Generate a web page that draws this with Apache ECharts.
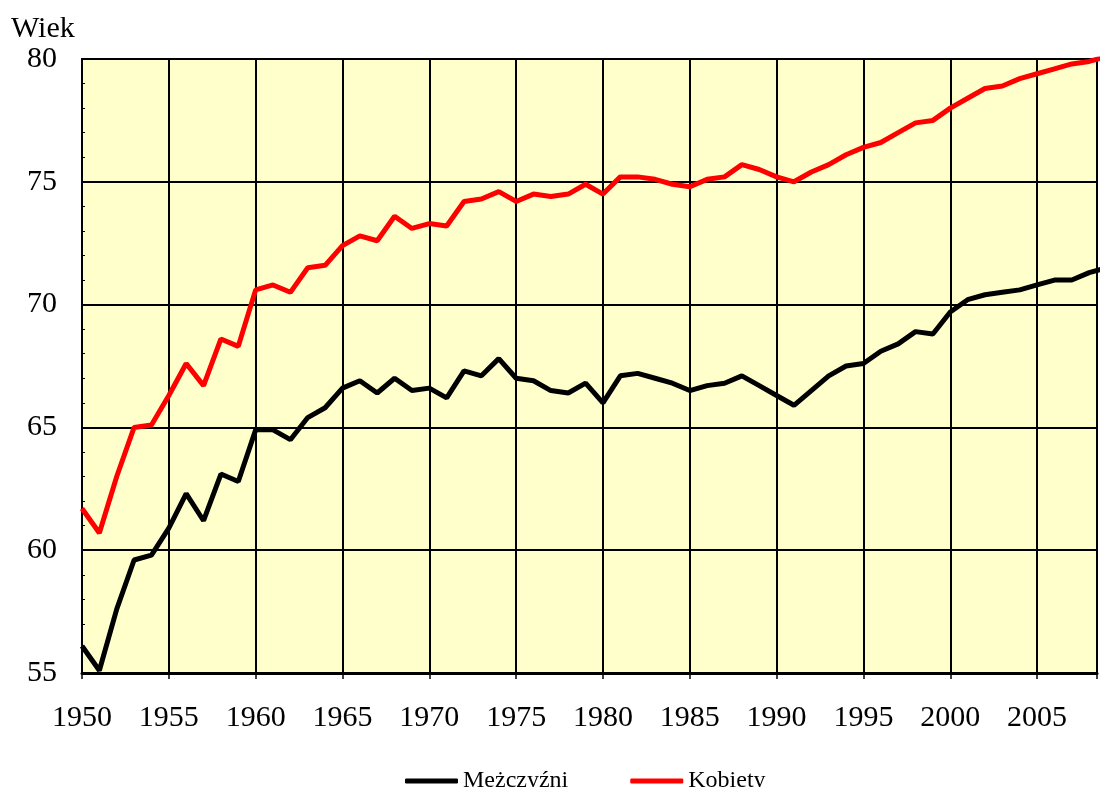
<!DOCTYPE html>
<html>
<head>
<meta charset="utf-8">
<title>Wiek</title>
<script src="https://cdn.jsdelivr.net/npm/echarts@6/dist/echarts.min.js"></script>
<style>
  html, body { margin: 0; padding: 0; background: #fff; }
  #chart { width: 1100px; height: 787px; }
</style>
</head>
<body>
<div id="chart"></div>
<script>
// lata 1950-2009
const years = [
  1950, 1951, 1952, 1953, 1954, 1955, 1956, 1957, 1958, 1959,
  1960, 1961, 1962, 1963, 1964, 1965, 1966, 1967, 1968, 1969,
  1970, 1971, 1972, 1973, 1974, 1975, 1976, 1977, 1978, 1979,
  1980, 1981, 1982, 1983, 1984, 1985, 1986, 1987, 1988, 1989,
  1990, 1991, 1992, 1993, 1994, 1995, 1996, 1997, 1998, 1999,
  2000, 2001, 2002, 2003, 2004, 2005, 2006, 2007, 2008, 2009
];
const men = [
  56.1, 55.1, 57.6, 59.6, 59.8, 60.9, 62.3, 61.2, 63.1, 62.8,
  64.9, 64.9, 64.5, 65.4, 65.8, 66.6, 66.9, 66.4, 67.0, 66.5,
  66.6, 66.2, 67.3, 67.1, 67.8, 67.0, 66.9, 66.5, 66.4, 66.8,
  66.0, 67.1, 67.2, 67.0, 66.8, 66.5, 66.7, 66.8, 67.1, 66.7,
  66.3, 65.9, 66.5, 67.1, 67.5, 67.6, 68.1, 68.4, 68.9, 68.8,
  69.7, 70.2, 70.4, 70.5, 70.6, 70.8, 71.0, 71.0, 71.3, 71.5
];
const women = [
  61.7, 60.7, 63.0, 65.0, 65.1, 66.3, 67.6, 66.7, 68.6, 68.3,
  70.6, 70.8, 70.5, 71.5, 71.6, 72.4, 72.8, 72.6, 73.6, 73.1,
  73.3, 73.2, 74.2, 74.3, 74.6, 74.2, 74.5, 74.4, 74.5, 74.9,
  74.5, 75.2, 75.2, 75.1, 74.9, 74.8, 75.1, 75.2, 75.7, 75.5,
  75.2, 75.0, 75.4, 75.7, 76.1, 76.4, 76.6, 77.0, 77.4, 77.5,
  78.0, 78.4, 78.8, 78.9, 79.2, 79.4, 79.6, 79.8, 79.9, 80.1
];
const seriesNames = ["Mężczyźni", "Kobiety"];
const yTicks = { min: 55, max: 80, step: 5 };
const xTicks = { min: 1950, step: 5 };

const FONT = "'Liberation Serif', 'Times New Roman', serif";

const chart = echarts.init(document.getElementById("chart"));

const toPairs = (vals) => years.map((y, i) => [y, vals[i]]);

chart.setOption({
  animation: false,
  title: {
    text: "Wiek",
    left: 11,
    top: 14,
    padding: 0,
    textStyle: { fontFamily: FONT, fontSize: 30, fontWeight: "normal", color: "#000" },
  },
  grid: {
    left: 82,
    top: 59,
    right: 0,
    bottom: 114,
    show: true,
    backgroundColor: "#FFFFCC",
    borderColor: "#000",
    borderWidth: 2,
  },
  legend: {
    left: 400,
    top: 764,
    itemWidth: 53,
    itemHeight: 5,
    itemGap: 62,
    icon: "roundRect",
    textStyle: { fontFamily: FONT, fontSize: 24, color: "#000" },
    data: seriesNames,
  },
  xAxis: {
    type: "value",
    min: xTicks.min,
    max: 2008.45,
    interval: xTicks.step,
    axisLine: { show: true, lineStyle: { color: "#000", width: 3 } },
    axisTick: { show: true, length: 6, lineStyle: { color: "#000", width: 1.5 } },
    axisLabel: {
      fontFamily: FONT,
      fontSize: 30,
      color: "#000",
      margin: 30,
      formatter: (v) => (v % 5 === 0 ? String(v) : ""),
    },
    splitLine: { show: true, lineStyle: { color: "#000", width: 2 } },
  },
  yAxis: {
    type: "value",
    min: yTicks.min,
    max: yTicks.max,
    interval: yTicks.step,
    axisLine: { show: true, lineStyle: { color: "#000", width: 2 } },
    axisTick: { show: true, inside: true, length: 5, lineStyle: { color: "#000", width: 1 } },
    minorTick: { show: true, splitNumber: 5, length: 3, lineStyle: { color: "#000", width: 1 } },
    axisLabel: { fontFamily: FONT, fontSize: 30, color: "#000", margin: 25 },
    splitLine: { show: true, lineStyle: { color: "#000", width: 2 } },
  },
  series: [
    {
      name: seriesNames[0],
      type: "line",
      data: toPairs(men),
      showSymbol: false,
      clip: true,
      lineStyle: { color: "#000", width: 5 },
      itemStyle: { color: "#000" },
    },
    {
      name: seriesNames[1],
      type: "line",
      data: toPairs(women),
      showSymbol: false,
      clip: true,
      lineStyle: { color: "#FF0000", width: 5 },
      itemStyle: { color: "#FF0000" },
    },
  ],
});
</script>
</body>
</html>
